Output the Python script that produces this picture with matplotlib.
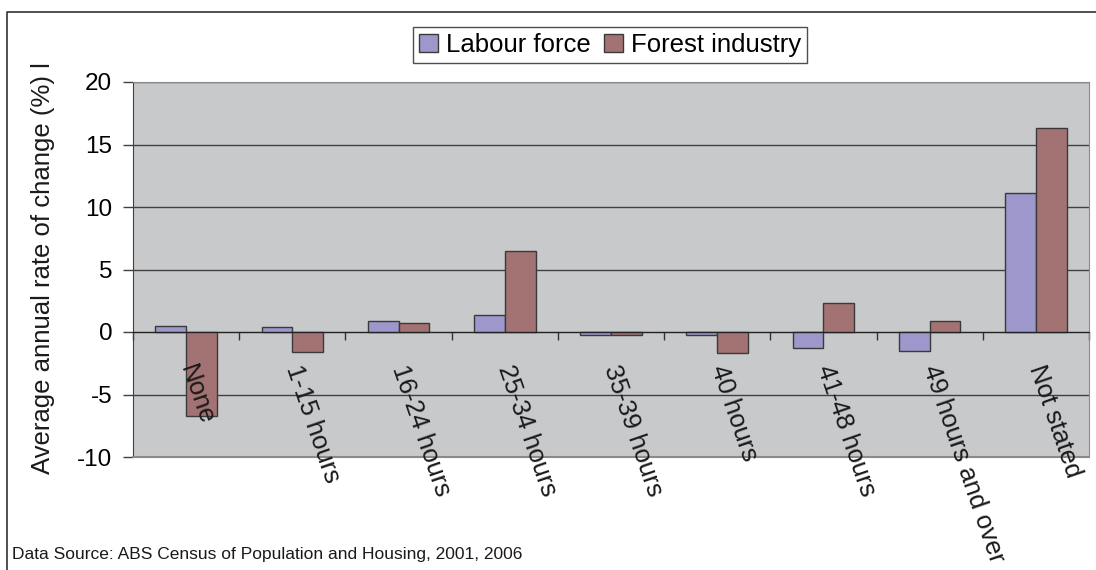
import matplotlib.pyplot as plt
from matplotlib.lines import Line2D
from matplotlib.patches import Patch
import numpy as np

plt.rcParams['font.family'] = ['Liberation Sans', 'DejaVu Sans']
plt.rcParams['axes.unicode_minus'] = False

categories = ['None', '1-15 hours', '16-24 hours', '25-34 hours', '35-39 hours',
              '40 hours', '41-48 hours', '49 hours and over', 'Not stated']
labour_force = [0.5, 0.4, 0.85, 1.35, -0.25, -0.25, -1.3, -1.5, 11.1]
forest_industry = [-6.7, -1.6, 0.75, 6.5, -0.25, -1.7, 2.3, 0.85, 16.3]

c_lf = '#9D97CB'
c_fi = '#A37273'
bg = '#C8C9CB'

W, H = 1096, 570
fig = plt.figure(figsize=(W / 100, H / 100), dpi=100)
ax = fig.add_axes([133 / W, 1 - 457 / H, 956 / W, 375 / H])
ax.set_facecolor(bg)

x = np.arange(len(categories))
bw = 0.29
ax.bar(x - bw / 2, labour_force, bw, color=c_lf, edgecolor='#3a3a3a', lw=1, zorder=3)
ax.bar(x + bw / 2, forest_industry, bw, color=c_fi, edgecolor='#3a3a3a', lw=1, zorder=3)

ax.set_xlim(-0.5, len(categories) - 0.5)
ax.set_ylim(-10, 20)
ax.set_yticks(np.arange(-10, 21, 5))
ax.yaxis.grid(True, color='#404040', lw=1, zorder=1)
ax.tick_params(axis='y', labelsize=17.5, length=7, width=1, color='#404040', pad=8)

# category axis sits on zero, ticks between groups
ax.spines['bottom'].set_position(('data', 0))
ax.spines['bottom'].set_color('#222222')
ax.spines['bottom'].set_zorder(4)
ax.set_xticks(np.arange(-0.5, len(categories), 1))
ax.set_xticklabels([])
ax.tick_params(axis='x', direction='out', length=6, width=1, color='#333333')
ax.spines['left'].set_color('#404040')
ax.spines['top'].set_color('#8a8a8a')
ax.spines['right'].set_color('#8a8a8a')
ax.axhline(-10, color='#8a8a8a', lw=1.5, clip_on=False, zorder=5)

for i, lab in enumerate(categories):
    ax.annotate(lab, xy=(i, 0), xytext=(0, -24), textcoords='offset points',
                rotation=-71, rotation_mode='anchor', ha='left', va='center',
                fontsize=18.5, color='#1a1a1a', annotation_clip=False, zorder=6)

fig.text(43 / W, 1 - 268 / H, 'Average annual rate of change (%) l', rotation=90,
         ha='center', va='center', fontsize=18.5, color='#1a1a1a')

handles = [Patch(facecolor=c_lf, edgecolor='#3a3a3a'),
           Patch(facecolor=c_fi, edgecolor='#3a3a3a')]
leg = fig.legend(handles, ['Labour force', 'Forest industry'], ncol=2,
                 loc='center', bbox_to_anchor=(610 / W, 1 - 45 / H),
                 fontsize=18.5, frameon=True, fancybox=False,
                 handlelength=0.75, handleheight=0.75, handletextpad=0.3,
                 columnspacing=0.5, borderpad=0.25, borderaxespad=0)
leg.get_frame().set_edgecolor('#222222')
leg.get_frame().set_linewidth(1)

fig.text(12 / W, 1 - 555 / H, 'Data Source: ABS Census of Population and Housing, 2001, 2006',
         ha='left', va='center', fontsize=12.5, color='#1a1a1a')

# outer chart frame (top and left only visible)
fig.add_artist(Line2D([7 / W, 7 / W, 1.0], [0.0, 1 - 12 / H, 1 - 12 / H],
                      transform=fig.transFigure, color='#333333', lw=1.2))

fig.savefig('out.png', dpi=100)
